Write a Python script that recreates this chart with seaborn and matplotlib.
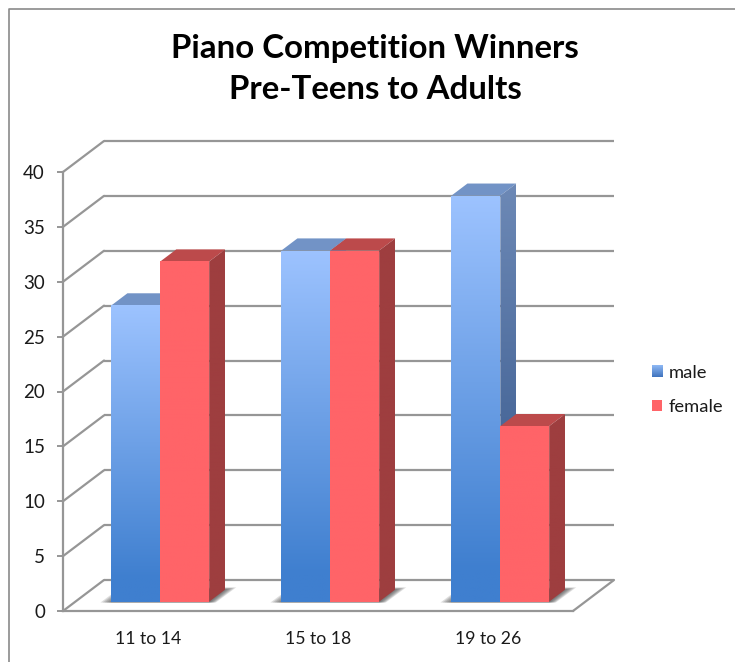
import numpy as np
import pandas as pd
import matplotlib
matplotlib.use("Agg")
import matplotlib.pyplot as plt
import seaborn as sns
from matplotlib.colors import to_rgb
from matplotlib.lines import Line2D
from matplotlib.patches import Polygon
from matplotlib.transforms import Affine2D, IdentityTransform

categories = ["11 to 14", "15 to 18", "19 to 26"]
male = [27, 32, 37]
female = [31, 32, 16]
y_ticks = [0, 5, 10, 15, 20, 25, 30, 35, 40]
title = "Piano Competition Winners\nPre-Teens to Adults"

W, H = 735, 662
GRID = "#969696"
DEPTH = (41, 31)          # pixel vector from the front plane to the back wall
BAR_D0, BAR_D1 = 0.30, 0.69

sns.set_theme(style="white")
plt.rcParams["font.family"] = ["Lato", "DejaVu Sans"]
plt.rcParams["text.color"] = "#1a1a1a"

fig = plt.figure(figsize=(W / 100, H / 100), dpi=100, facecolor="white")
ax = fig.add_axes([63 / W, (H - 611) / H, 510 / W, 439 / H])
ax.patch.set_alpha(0)

df = pd.DataFrame({
    "group": categories * 2,
    "sex": ["male"] * len(male) + ["female"] * len(female),
    "n": male + female,
})
sns.barplot(data=df, x="group", y="n", hue="sex", order=categories,
            hue_order=["male", "female"], width=0.575, gap=0, saturation=1,
            linewidth=0, palette={"male": "#5E93DF", "female": "#FF6468"}, ax=ax)
ax.set_xlim(-0.5, 2.5)
ax.set_ylim(0, 40)
ax.set_xlabel("")
ax.set_ylabel("")
ax.set_yticks(y_ticks)
sns.despine(ax=ax)
for s in ("left", "bottom"):
    ax.spines[s].set_color(GRID)
    ax.spines[s].set_linewidth(1.6)
ax.tick_params(axis="y", length=4, width=1.4, color=GRID, pad=9, left=True,
               labelsize=13.5, labelcolor="#1a1a1a")
ax.tick_params(axis="x", length=0, pad=14.5, labelsize=12.7, labelcolor="#1a1a1a")


def pt(x, y, d=0.0):
    px, py = ax.transData.transform((x, y))
    return (px + DEPTH[0] * d, py + DEPTH[1] * d)


def depth_tf(d):
    return ax.transData + Affine2D().translate(DEPTH[0] * d, DEPTH[1] * d)


def line(p, q):
    ax.add_line(Line2D([p[0], q[0]], [p[1], q[1]], transform=IdentityTransform(),
                       color=GRID, lw=1.6, clip_on=False, zorder=1))


# back wall and floor
ax.hlines(y_ticks, -0.5, 2.5, transform=depth_tf(1), colors=GRID, lw=1.6,
          clip_on=False, zorder=1)
for t in y_ticks:
    line(pt(-0.5, t), pt(-0.5, t, 1))
line(pt(2.5, 0), pt(2.5, 0, 1))


def poly(points, color=None, z=2, alpha=None):
    p = Polygon(points, closed=True, transform=IdentityTransform(),
                facecolor=color if color else "none", edgecolor="none",
                alpha=alpha, clip_on=False, zorder=z)
    return p


def gradient(points, top, bottom, z):
    xs = [p[0] for p in points]
    ys = [p[1] for p in points]
    n = 256
    a = np.linspace(0, 1, n)
    ramp = np.clip(a / 0.92, 0, 1)[:, None, None]
    img = np.array(to_rgb(top))[None, None, :] * (1 - ramp) + \
        np.array(to_rgb(bottom))[None, None, :] * ramp
    im = ax.imshow(img, extent=(min(xs), max(xs), min(ys), max(ys)), origin="upper",
                   aspect="auto", transform=IdentityTransform(), zorder=z,
                   interpolation="bilinear")
    im.set_clip_path(poly(points))


bars = [b for c in ax.containers for b in c]
bars.sort(key=lambda b: b.get_x())
fl_z = 2
for b in bars:
    b._x0, b._x1, b._h = b.get_x(), b.get_x() + b.get_width(), b.get_height()
# soft floor shadows
for grp in (bars[i:i + 2] for i in range(0, len(bars), 2)):
    xa, xb = grp[0]._x0, grp[1]._x1
    fa, fb = pt(xa, 0, BAR_D0), pt(xb, 0, BAR_D0)
    ba, bb = pt(xa, 0, BAR_D1), pt(xb, 0, BAR_D1)
    for grow in (11, 9, 7, 5, 3, 1):
        ax.add_patch(poly([(fa[0] - grow, fa[1] - 0.8), (ba[0] - grow * 0.6, ba[1] + grow * 0.2),
                           (bb[0] + grow, bb[1] + grow * 0.2), (fb[0] + grow * 0.6, fb[1] - 0.8)],
                          color="#3c3c3c", z=fl_z, alpha=0.17))

face = {"male": dict(top="#7293C6", s0="#6D89B6", s1="#35568A", f0="#9DC3FF", f1="#3F7FCF"),
        "female": dict(top="#BC4A4B", s0="#9E3E3F", s1="#9E3E3F", f0="#FF6468", f1="#FF6468")}
for i, b in enumerate(bars):
    kind = "male" if i % 2 == 0 else "female"
    c = face[kind]
    z = 3 + i * 0.1
    x0, x1, h = b._x0, b._x1, b._h
    A, B = pt(x0, 0, BAR_D0), pt(x1, 0, BAR_D0)
    C, D = pt(x1, h, BAR_D0), pt(x0, h, BAR_D0)
    B2, C2, D2 = pt(x1, 0, BAR_D1), pt(x1, h, BAR_D1), pt(x0, h, BAR_D1)
    b.set_transform(depth_tf(BAR_D0))
    b.set_clip_on(False)
    b.set_zorder(z + 0.03)
    ax.add_patch(poly([D, C, C2, D2], color=c["top"], z=z))
    gradient([B, B2, C2, C], c["s0"], c["s1"], z + 0.01)
    gradient([A, B, C, D], c["f0"], c["f1"], z + 0.04)

fig.suptitle(title, x=375 / W, y=1 - 69 / H, va="center", fontsize=23.8,
             fontweight="bold", linespacing=1.5, color="black")

# chart frame
fig.add_artist(Line2D([8.5 / W, 8.5 / W, 1], [0, 1 - 8.5 / H, 1 - 8.5 / H],
                      transform=fig.transFigure, color="#8a8a8a", lw=1.2))

sns.move_legend(ax, "center left", bbox_to_anchor=(652 / W, 1 - 390 / H),
                bbox_transform=fig.transFigure, title=None, frameon=False,
                fontsize=13.2, handlelength=0.56, handleheight=0.56,
                handletextpad=0.36, labelspacing=1.0, borderpad=0, borderaxespad=0)
leg = ax.get_legend()
leg.set_zorder(10)
fig.canvas.draw()
h = leg.legend_handles[0].get_window_extent()
n = 64
ramp = np.linspace(0, 1, n)[:, None, None]
img = np.array(to_rgb("#8FB9F5"))[None, None, :] * (1 - ramp) + np.array(to_rgb("#3F73BD"))[None, None, :] * ramp
ax.imshow(img, extent=(h.x0, h.x1, h.y0, h.y1), origin="upper", aspect="auto",
          transform=IdentityTransform(), zorder=11, clip_on=False)
ax.set_xlim(-0.5, 2.5)
ax.set_ylim(0, 40)

fig.savefig("out.png", dpi=100, facecolor="white")
